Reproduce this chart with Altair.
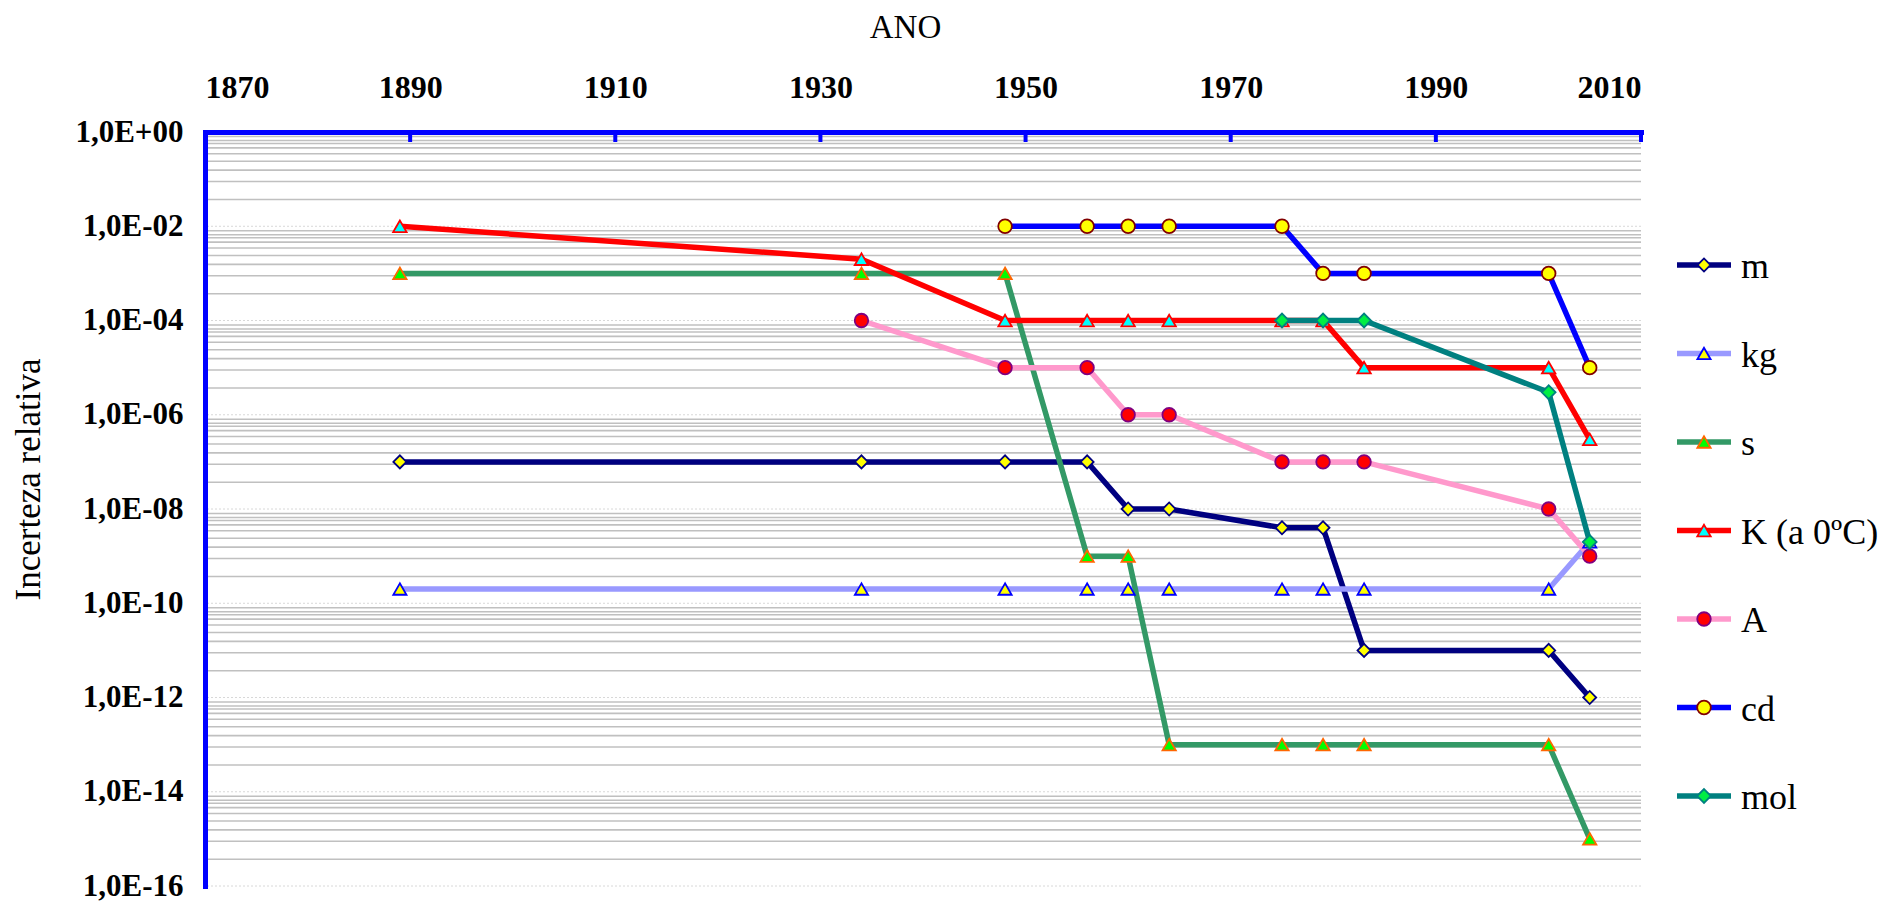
import altair as alt
import pandas as pd

# ---------------- data ----------------
SERIES = ["m", "kg", "s", "K (a 0ºC)", "A", "cd", "mol"]

M_YEARS = [1889, 1934, 1948, 1956, 1960, 1964, 1975, 1979, 1983, 2001, 2005]
M_VALUES = [1e-7, 1e-7, 1e-7, 1e-7, 1e-8, 1e-8, 4e-9, 4e-9, 1e-11, 1e-11, 1e-12]

KG_YEARS = [1889, 1934, 1948, 1956, 1960, 1964, 1975, 1979, 1983, 2001, 2005]
KG_VALUES = [2e-10, 2e-10, 2e-10, 2e-10, 2e-10, 2e-10, 2e-10, 2e-10, 2e-10, 2e-10, 2e-9]

S_YEARS = [1889, 1934, 1948, 1956, 1960, 1964, 1975, 1979, 1983, 2001, 2005]
S_VALUES = [1e-3, 1e-3, 1e-3, 1e-9, 1e-9, 1e-13, 1e-13, 1e-13, 1e-13, 1e-13, 1e-15]

K_YEARS = [1889, 1934, 1948, 1956, 1960, 1964, 1975, 1979, 1983, 2001, 2005]
K_VALUES = [1e-2, 2e-3, 1e-4, 1e-4, 1e-4, 1e-4, 1e-4, 1e-4, 1e-5, 1e-5, 3e-7]

A_YEARS = [1934, 1948, 1956, 1960, 1964, 1975, 1979, 1983, 2001, 2005]
A_VALUES = [1e-4, 1e-5, 1e-5, 1e-6, 1e-6, 1e-7, 1e-7, 1e-7, 1e-8, 1e-9]

CD_YEARS = [1948, 1956, 1960, 1964, 1975, 1979, 1983, 2001, 2005]
CD_VALUES = [1e-2, 1e-2, 1e-2, 1e-2, 1e-2, 1e-3, 1e-3, 1e-3, 1e-5]

MOL_YEARS = [1975, 1979, 1983, 2001, 2005]
MOL_VALUES = [1e-4, 1e-4, 1e-4, 3e-6, 2e-9]

X_TICKS = [1870, 1890, 1910, 1930, 1950, 1970, 1990, 2010]
Y_TICKS = [1e0, 1e-2, 1e-4, 1e-6, 1e-8, 1e-10, 1e-12, 1e-14, 1e-16]
Y_LABELS = ["1,0E+00", "1,0E-02", "1,0E-04", "1,0E-06", "1,0E-08",
            "1,0E-10", "1,0E-12", "1,0E-14", "1,0E-16"]
# minor gridlines inside each two-decade block (fraction of the upper decade value)
GRID_MULT = [0.80, 0.66, 0.57, 0.46, 0.345, 0.24, 0.155, 0.089, 0.037]

# ---------------- styles ----------------
LINE_COLORS = ["#000080", "#9999FF", "#339966", "#FF0000", "#FF99CC", "#0000FF", "#008080"]
LINE_WIDTHS = [5.5, 5.5, 5.5, 6.5, 5.5, 6.5, 3.5]
MARKER_SHAPES = ["diamond", "triangle-up", "triangle-up", "triangle-up", "circle", "circle", "diamond"]
MARKER_FILL = ["#FFFF00", "#FFFF00", "#00FF00", "#00FFFF", "#FF0000", "#FFFF00", "#00EE44"]
MARKER_STROKE = ["#000080", "#0000FF", "#FF6600", "#FF0000", "#800080", "#800000", "#008080"]
MARKER_SIZE = [170, 190, 190, 190, 125, 125, 170]

FONT = "Liberation Serif"
W, H = 1436, 754
NO_VIEW = alt.ViewBackground(stroke="transparent", strokeWidth=0, fill="transparent")

# ---------------- tables ----------------
rows = []
for name, ys, vs in zip(
    SERIES,
    [M_YEARS, KG_YEARS, S_YEARS, K_YEARS, A_YEARS, CD_YEARS, MOL_YEARS],
    [M_VALUES, KG_VALUES, S_VALUES, K_VALUES, A_VALUES, CD_VALUES, MOL_VALUES],
):
    for yr, v in zip(ys, vs):
        rows.append({"series": name, "year": yr, "value": v})
df = pd.DataFrame(rows)

grid_df = pd.DataFrame({"value": [top * m for top in Y_TICKS[:-1] for m in GRID_MULT]})
decade_df = pd.DataFrame({"value": Y_TICKS})
xtick_df = pd.DataFrame({"year": X_TICKS})
legend_df = pd.DataFrame({"series": SERIES})

# ---------------- scales / axes ----------------
x_scale = alt.Scale(domain=[1870, 2010], nice=False, zero=False)
y_scale = alt.Scale(type="log", domain=[1e-16, 1], nice=False)

label_array = "[" + ",".join("'%s'" % s for s in Y_LABELS) + "]"
y_axis = alt.Axis(
    values=Y_TICKS,
    labelExpr=label_array + "[round(-log(datum.value)/LN10/2)]",
    labelFont=FONT, labelFontSize=31, labelFontWeight="bold", labelColor="black",
    labelPadding=22, ticks=False, tickSize=0, grid=False,
    domainColor="#0000FF", domainWidth=5, domainCap="square",
    title="Incerteza relativa", titleFont=FONT, titleFontSize=35,
    titleFontWeight="normal", titleColor="black",
    titleX=-177, titleY=347, titleAngle=270, titleBaseline="middle",
    zindex=2,
)
x_axis = alt.Axis(
    orient="top", values=X_TICKS, format="d",
    labelFont=FONT, labelFontSize=32, labelFontWeight="bold", labelColor="black",
    labelPadding=28, ticks=False, tickSize=0, grid=False,
    domainColor="#0000FF", domainWidth=5, domainCap="square",
    title="ANO", titleFont=FONT, titleFontSize=33, titleFontWeight="normal",
    titleColor="black", titleX=700, titleY=-105, titleBaseline="middle",
    zindex=2,
)

X_ENC = alt.X("year:Q", scale=x_scale, axis=x_axis)
Y_ENC = alt.Y("value:Q", scale=y_scale, axis=y_axis)

color = alt.Color("series:N", scale=alt.Scale(domain=SERIES, range=LINE_COLORS), legend=None)
swidth = alt.StrokeWidth("series:N", scale=alt.Scale(domain=SERIES, range=LINE_WIDTHS), legend=None)
shape = alt.Shape("series:N", scale=alt.Scale(domain=SERIES, range=MARKER_SHAPES), legend=None)
fill = alt.Fill("series:N", scale=alt.Scale(domain=SERIES, range=MARKER_FILL), legend=None)
stroke = alt.Stroke("series:N", scale=alt.Scale(domain=SERIES, range=MARKER_STROKE), legend=None)
size = alt.Size("series:N", scale=alt.Scale(domain=SERIES, range=MARKER_SIZE), legend=None)

# ---------------- main panel ----------------
grid = alt.Chart(grid_df).mark_rule(color="#C0C0C0", strokeWidth=1.6).encode(y=Y_ENC)
decades = alt.Chart(decade_df).mark_rule(color="#D8D8D8", strokeWidth=1, strokeDash=[2, 2]).encode(
    y=alt.Y("value:Q", scale=y_scale)
)
xticks = alt.Chart(xtick_df).mark_rule(color="#0000FF", strokeWidth=4).encode(
    x=X_ENC, y=alt.value(0), y2=alt.value(10)
)
lines = alt.Chart(df).mark_line(strokeJoin="miter").encode(
    x=alt.X("year:Q", scale=x_scale),
    y=alt.Y("value:Q", scale=y_scale),
    color=color, strokeWidth=swidth,
    order="year:Q",
)
points = alt.Chart(df).mark_point(filled=True, opacity=1, strokeWidth=1.8).encode(
    x=alt.X("year:Q", scale=x_scale),
    y=alt.Y("value:Q", scale=y_scale),
    shape=shape, fill=fill, stroke=stroke, size=size,
)

main = alt.layer(grid, decades, xticks, lines, points).properties(width=W, height=H, view=NO_VIEW)

# ---------------- legend panel ----------------
leg_y = alt.Y("series:N", scale=alt.Scale(type="point", domain=SERIES, range=[133, 664], padding=0), axis=None)
leg_lines = alt.Chart(legend_df).mark_rule(strokeCap="butt").encode(
    y=leg_y, x=alt.value(0), x2=alt.value(54), color=color, strokeWidth=swidth
)
leg_pts = alt.Chart(legend_df).mark_point(filled=True, opacity=1, strokeWidth=1.8).encode(
    y=leg_y, x=alt.value(27), shape=shape, fill=fill, stroke=stroke, size=size
)
leg_text = alt.Chart(legend_df).mark_text(
    align="left", baseline="middle", font=FONT, fontSize=36, color="black", dy=2
).encode(y=leg_y, x=alt.value(64), text="series:N")
legend = alt.layer(leg_lines, leg_pts, leg_text).properties(width=60, height=H, view=NO_VIEW)

chart = (
    alt.hconcat(main, legend, spacing=36, bounds="flush")
    .properties(padding={"left": 3, "top": 3, "right": 0, "bottom": 0})
    .configure_view(stroke="transparent", strokeWidth=0)
    .configure(font=FONT)
)

chart.save("out.html", embed_options={"renderer": "svg", "actions": False})
